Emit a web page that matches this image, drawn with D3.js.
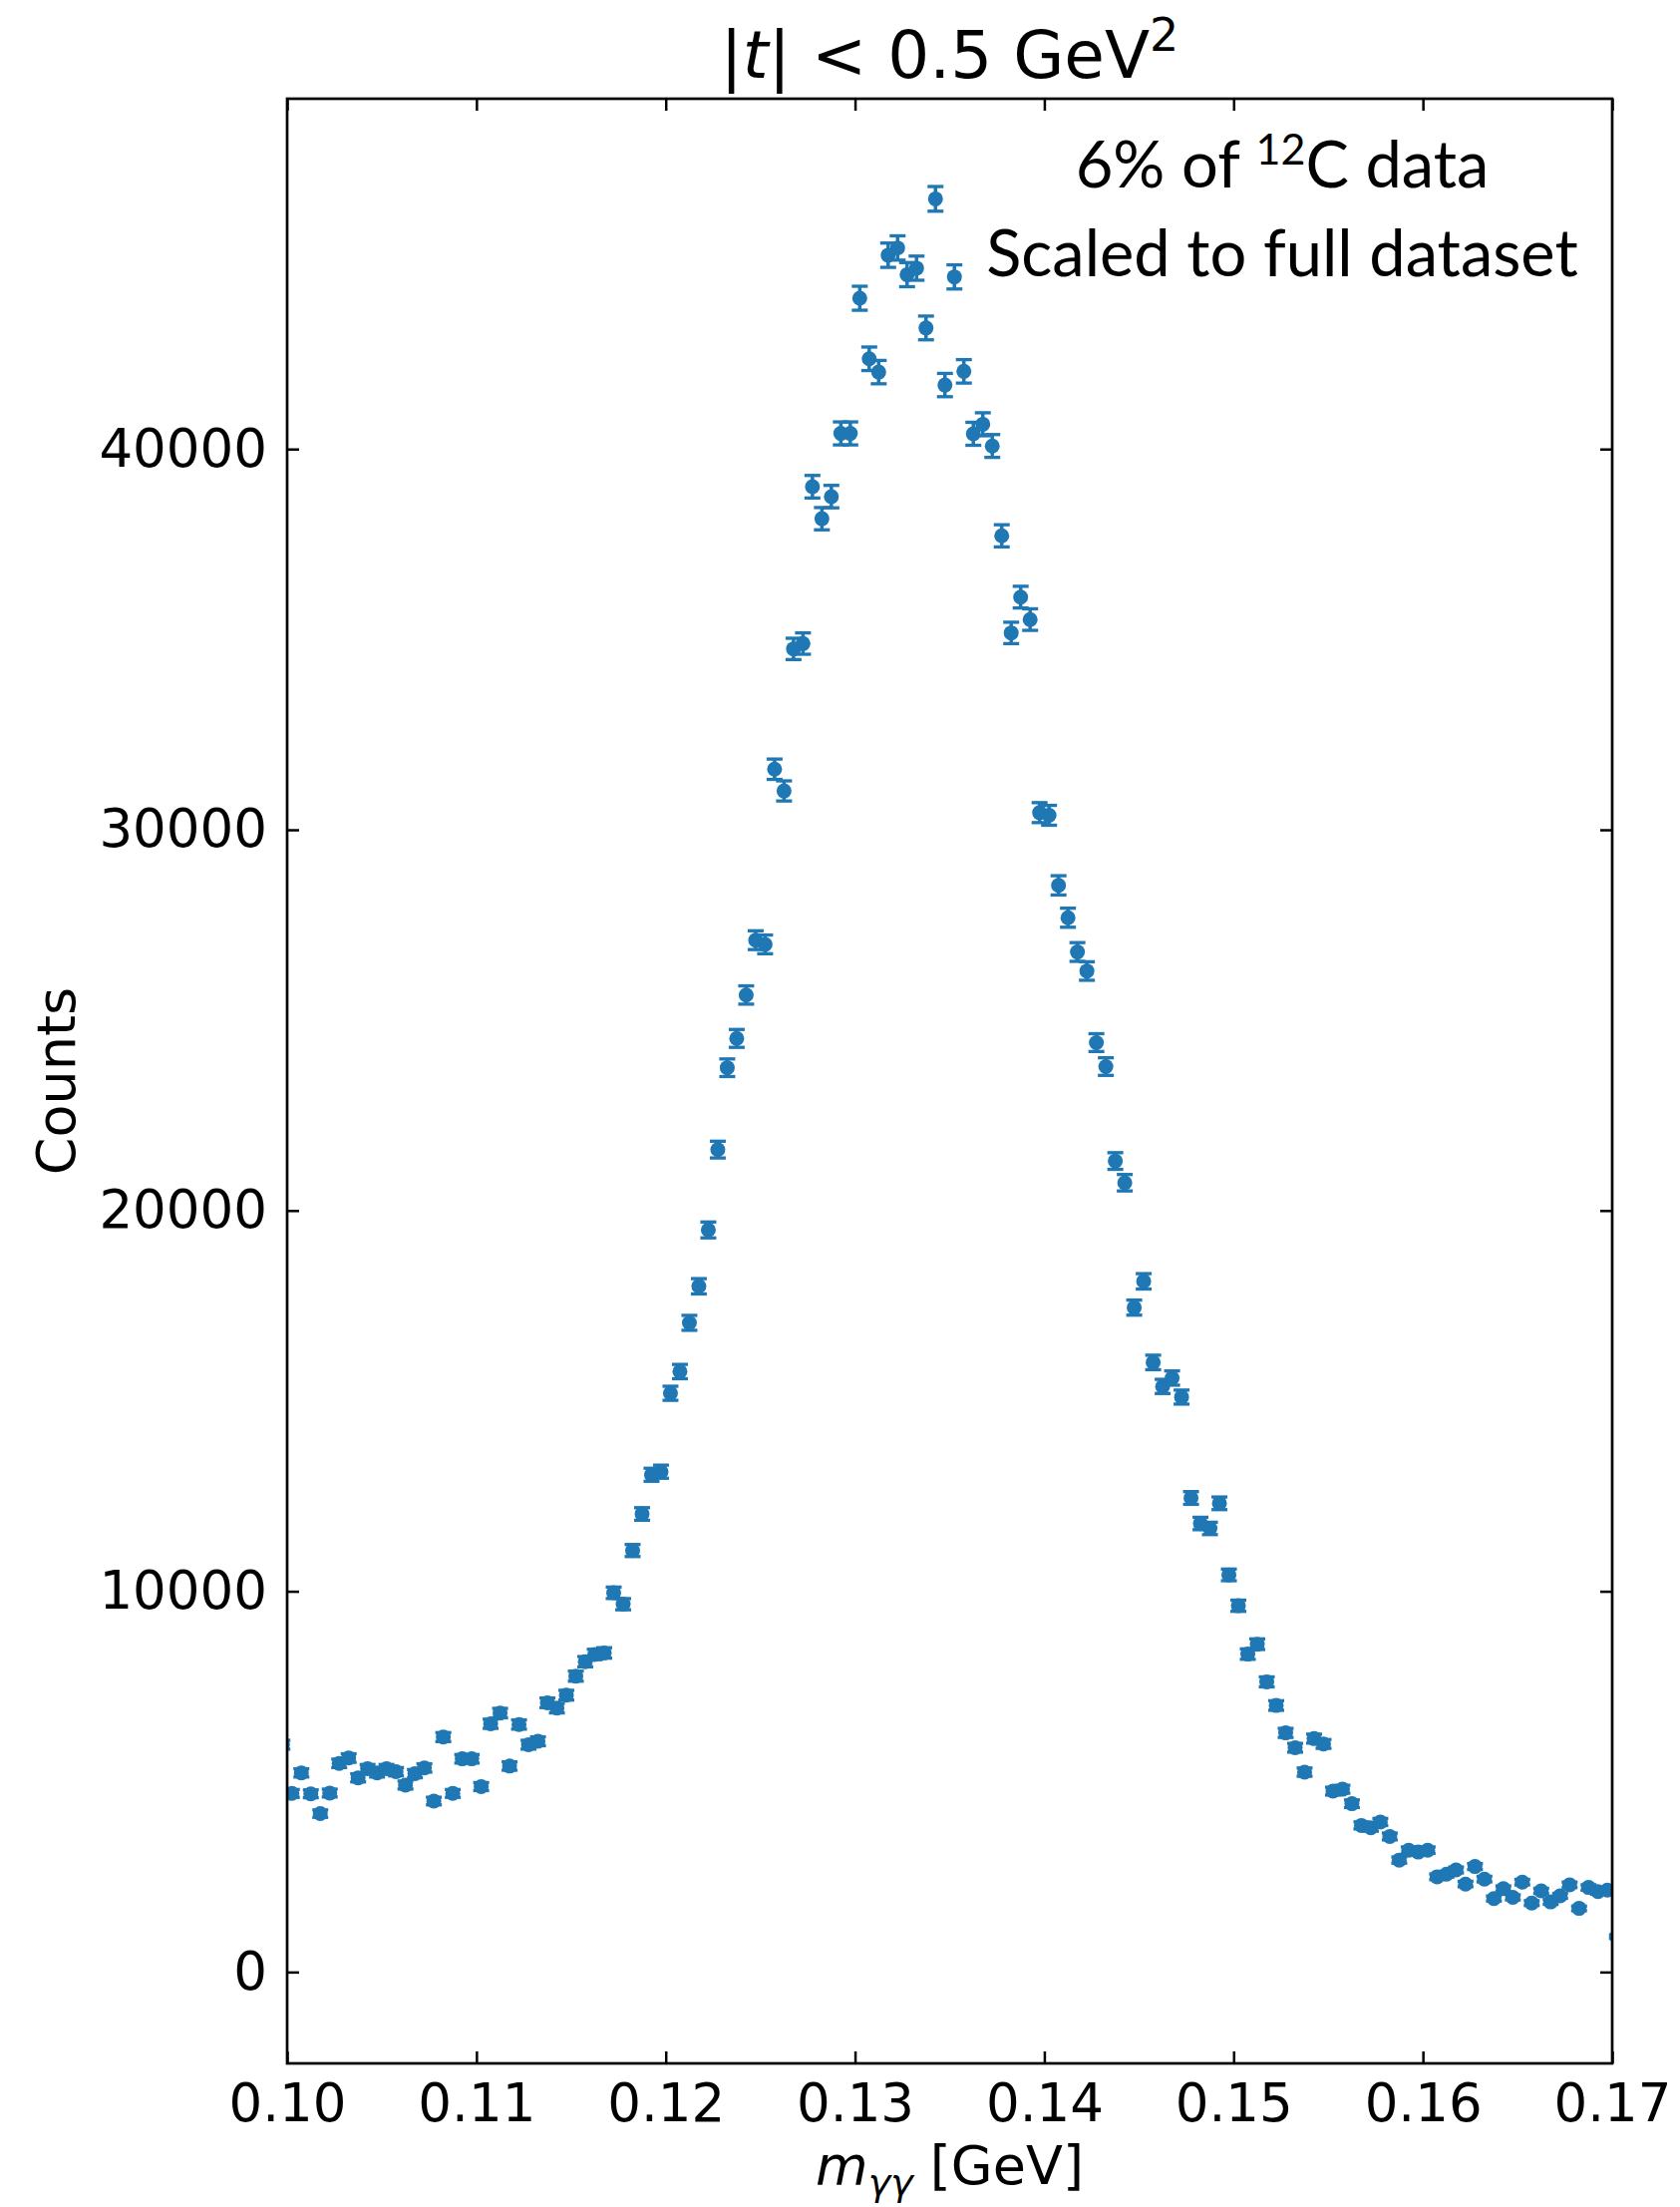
<!DOCTYPE html>
<html>
<head>
<meta charset="utf-8">
<script src="https://cdn.jsdelivr.net/npm/d3@7"></script>
<style>
  body { margin: 0; background: white; }
  svg { display: block; }
</style>
</head>
<body>
<svg id="chart" width="1685" height="2213"></svg>
<script>
// histogram bins: 0.5 MeV wide, first visible center at 0.09975 GeV
const binStart = 0.09975;
const binWidth = 0.0005;

const counts = [
  5970, 4690, 5230, 4680, 4160, 4700, 5480, 5620, 5100, 5340,
  5230, 5340, 5260, 4910, 5210, 5360, 4490, 6170, 4690, 5600,
  5600, 4870, 6520, 6800, 5410, 6500, 5970, 6060, 7070, 6930,
  7270, 7770, 8150, 8340, 8380, 9960, 9660, 11070, 12030, 13060,
  13140, 15200, 15770, 17050, 18010, 19490, 21600, 23750, 24520, 25660,
  27100, 26990, 31590, 31020, 34750, 34890, 39010, 38170, 38750, 40410,
  40410, 43960, 42370, 42020, 45090, 45280, 44580, 44750, 43180, 46570,
  41680, 44520, 42040, 40400, 40650, 40080, 37720, 35170, 36110, 35520,
  30450, 30380, 28540, 27690, 26790, 26290, 24410, 23780, 21300, 20730,
  17450, 18140, 16010, 15380, 15600, 15100, 12450, 11780, 11650, 12310,
  10430, 9620, 8350, 8610, 7620, 7000, 6280, 5890, 5250, 6130,
  5990, 4750, 4800, 4420, 3850, 3790, 3940, 3560, 2940, 3200,
  3150, 3200, 2500, 2570, 2680, 2310, 2770, 2440, 1930, 2190,
  1960, 2360, 1810, 2130, 1840, 2000, 2290, 1670, 2220, 2110,
  2150, 930
];

const errors = [
  116, 103, 108, 103, 97, 103, 111, 112, 107, 110,
  108, 110, 109, 105, 108, 110, 100, 118, 103, 112,
  112, 105, 121, 124, 110, 121, 116, 117, 126, 125,
  128, 132, 135, 137, 137, 150, 147, 158, 165, 171,
  172, 185, 188, 196, 201, 209, 220, 231, 235, 240,
  247, 246, 267, 264, 280, 280, 296, 293, 295, 302,
  302, 315, 309, 307, 319, 319, 317, 317, 312, 324,
  306, 317, 308, 302, 302, 300, 291, 281, 285, 283,
  262, 261, 253, 250, 246, 243, 234, 231, 219, 216,
  198, 202, 190, 186, 187, 184, 167, 163, 162, 166,
  153, 147, 137, 139, 131, 126, 119, 115, 109, 117,
  116, 103, 104, 100, 93, 92, 94, 90, 81, 85,
  84, 85, 75, 76, 78, 72, 79, 74, 66, 70,
  66, 73, 64, 69, 64, 67, 72, 61, 71, 69,
  70, 46
];

const xTicks = [0.10, 0.11, 0.12, 0.13, 0.14, 0.15, 0.16, 0.17];
const yTicks = [0, 10000, 20000, 30000, 40000];

const svg = d3.select("#chart");
const margin = { top: 99, right: 68, bottom: 144, left: 288 };
const width = 1685;
const height = 2213;
const plotW = width - margin.left - margin.right;
const plotH = height - margin.top - margin.bottom;
const blue = "#1f77b4";
const tickFont = "'DejaVu Sans', sans-serif";

const data = counts.map((c, i) => ({
  x: binStart + i * binWidth,
  y: c,
  e: errors[i]
}));

const x = d3.scaleLinear().domain([0.10, 0.17]).range([0, plotW]);
const y = d3.scaleLinear().domain([-2400, 49200]).range([plotH, 0]);

const chart = svg.append("g")
    .attr("transform", `translate(${margin.left}, ${margin.top})`);

svg.append("defs").append("clipPath")
    .attr("id", "plotclip")
    .append("rect")
    .attr("width", plotW)
    .attr("height", plotH);

// points with error bars
const pts = chart.append("g")
    .attr("clip-path", "url(#plotclip)")
    .selectAll("g")
    .data(data)
    .enter()
    .append("g")
    .attr("transform", d => `translate(${x(d.x)}, 0)`);

pts.append("line")
    .attr("y1", d => y(d.y - d.e))
    .attr("y2", d => y(d.y + d.e))
    .attr("stroke", blue)
    .attr("stroke-width", 3.5);

pts.append("line")
    .attr("x1", -8).attr("x2", 8)
    .attr("y1", d => y(d.y + d.e)).attr("y2", d => y(d.y + d.e))
    .attr("stroke", blue)
    .attr("stroke-width", 3.3);

pts.append("line")
    .attr("x1", -8).attr("x2", 8)
    .attr("y1", d => y(d.y - d.e)).attr("y2", d => y(d.y - d.e))
    .attr("stroke", blue)
    .attr("stroke-width", 3.3);

pts.append("circle")
    .attr("cy", d => y(d.y))
    .attr("r", 7.5)
    .attr("fill", blue);

// axes, ticks pointing inward on all four sides
function styleAxis(g) {
  g.select(".domain").remove();
  g.selectAll(".tick line").attr("stroke", "black").attr("stroke-width", 2.5);
  g.selectAll(".tick text")
      .attr("fill", "black")
      .style("font-family", tickFont)
      .style("font-size", "53px");
}

chart.append("g")
    .attr("transform", `translate(0, ${plotH})`)
    .call(d3.axisBottom(x).tickValues(xTicks).tickFormat(d3.format(".2f"))
        .tickSizeInner(-12).tickSizeOuter(0).tickPadding(20))
    .call(styleAxis);

chart.append("g")
    .call(d3.axisTop(x).tickValues(xTicks).tickFormat("")
        .tickSizeInner(-12).tickSizeOuter(0))
    .call(styleAxis);

chart.append("g")
    .call(d3.axisLeft(y).tickValues(yTicks).tickFormat(d3.format("d"))
        .tickSizeInner(-12).tickSizeOuter(0).tickPadding(20))
    .call(styleAxis);

chart.append("g")
    .attr("transform", `translate(${plotW}, 0)`)
    .call(d3.axisRight(y).tickValues(yTicks).tickFormat("")
        .tickSizeInner(-12).tickSizeOuter(0))
    .call(styleAxis);

chart.append("rect")
    .attr("width", plotW)
    .attr("height", plotH)
    .attr("fill", "none")
    .attr("stroke", "black")
    .attr("stroke-width", 2.7);

// title
const title = svg.append("text")
    .attr("x", margin.left + plotW / 2)
    .attr("y", 78)
    .attr("text-anchor", "middle")
    .style("font-family", tickFont)
    .style("font-size", "66px");
title.append("tspan").text("|");
title.append("tspan").style("font-style", "italic").text("t");
title.append("tspan").text("| < 0.5 GeV");
title.append("tspan").attr("dy", -27).style("font-size", "46px").text("2");

// annotation
const note = svg.append("g")
    .attr("text-anchor", "middle")
    .style("font-family", "Lato, sans-serif")
    .style("font-size", "65px")
    .style("font-weight", 400);
const line1 = note.append("text").attr("x", 1286).attr("y", 188);
line1.append("tspan").text("6% of ");
line1.append("tspan").attr("dy", -23).style("font-size", "43px").text("12");
line1.append("tspan").attr("dy", 23).text("C data");
note.append("text").attr("x", 1286).attr("y", 277).text("Scaled to full dataset");

// axis labels
const xl = svg.append("text")
    .attr("x", margin.left + plotW / 2)
    .attr("y", 2190)
    .attr("text-anchor", "middle")
    .style("font-family", tickFont)
    .style("font-size", "54px");
xl.append("tspan").style("font-style", "italic").text("m");
xl.append("tspan").attr("dy", 11).style("font-style", "italic").style("font-size", "38px").text("γγ");
xl.append("tspan").attr("dy", -11).text(" [GeV]");

svg.append("text")
    .attr("transform", `translate(75, ${margin.top + plotH / 2}) rotate(-90)`)
    .attr("text-anchor", "middle")
    .style("font-family", tickFont)
    .style("font-size", "54px")
    .text("Counts");
</script>
</body>
</html>
